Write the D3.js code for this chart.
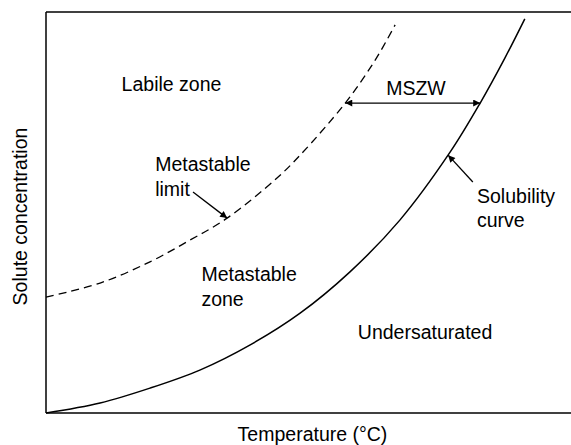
<!DOCTYPE html>
<html>
<head>
<meta charset="utf-8">
<script src="https://cdn.jsdelivr.net/npm/d3@7"></script>
<style>
  html, body { margin: 0; padding: 0; background: #fff; }
  svg { display: block; }
  text { font-family: "Liberation Sans", Arial, Helvetica, sans-serif; fill: #000; }
</style>
</head>
<body>
<svg id="chart" width="571" height="445"></svg>
<script>
// ---- Data (arbitrary units: temperature 0-100, concentration 0-100) ----
const solubilityT = [0, 10.3, 19.8, 29.3, 38.9, 48.4, 57.9, 67.4, 77.0, 82.7, 87.4, 91.2];
const solubilityC = [0, 2.5, 6.2, 10.7, 17.0, 24.9, 35.2, 48.1, 65.1, 77.3, 88.5, 98.3];
const metastableT = [0, 10.3, 19.8, 27.4, 34.5, 44.0, 48.4, 57.0, 62.7, 66.5];
const metastableC = [28.9, 32.4, 37.7, 43.1, 48.6, 58.6, 64.3, 77.3, 88.0, 96.8];

const xLabel = "Temperature (°C)";
const yLabel = "Solute concentration";

// region labels: [text lines, T, C]
const zoneLabels = [
  { lines: ["Labile zone"], t: 14.4, c: 80.3 },
  { lines: ["Metastable", "limit"], t: 20.8, c: 60.3 },
  { lines: ["Metastable", "zone"], t: 29.6, c: 32.8 },
  { lines: ["Undersaturated"], t: 59.4, c: 18.5 },
  { lines: ["Solubility", "curve"], t: 82.1, c: 52.4 },
  { lines: ["MSZW"], t: 64.8, c: 79.3 }
];
// arrows: from (t1,c1) to (t2,c2); double = heads on both ends
const arrows = [
  { t1: 57.0, c1: 77.3, t2: 82.7, c2: 77.3, double: true },
  { t1: 28.0, c1: 55.1, t2: 34.5, c2: 48.6, double: false },
  { t1: 81.3, c1: 57.6, t2: 76.6, c2: 64.3, double: false }
];

// ---- Layout ----
const W = 571, H = 445;
const margin = { left: 46, right: 0, top: 12, bottom: 32 };
const svg = d3.select("#chart");
const x = d3.scaleLinear().domain([0, 100]).range([margin.left, W - margin.right]);
const y = d3.scaleLinear().domain([0, 100]).range([H - margin.bottom, margin.top]);

const FS = 19.5;

// markers
const defs = svg.append("defs");
defs.append("marker").attr("id", "head")
  .attr("viewBox", "0 0 10 10").attr("refX", 10).attr("refY", 5)
  .attr("markerWidth", 9).attr("markerHeight", 7).attr("markerUnits", "userSpaceOnUse")
  .attr("orient", "auto-start-reverse")
  .append("path").attr("d", "M0,0 L10,5 L0,10 Z").attr("fill", "#000");

// frame: left, top, bottom
const frame = svg.append("g").attr("stroke", "#000").attr("stroke-width", 1.5).attr("fill", "none");
frame.append("line").attr("x1", x(0)).attr("x2", x(0)).attr("y1", y(100)).attr("y2", y(0));
frame.append("line").attr("x1", x(0)).attr("x2", x(100)).attr("y1", y(100)).attr("y2", y(100));
frame.append("line").attr("x1", x(0)).attr("x2", x(100)).attr("y1", y(0)).attr("y2", y(0));

const line = d3.line().x(d => x(d[0])).y(d => y(d[1])).curve(d3.curveCatmullRom.alpha(0.5));

const solPts = solubilityT.map((t, i) => [t, solubilityC[i]]);
const metPts = metastableT.map((t, i) => [t, metastableC[i]]);

svg.append("path").datum(solPts).attr("d", line)
  .attr("fill", "none").attr("stroke", "#000").attr("stroke-width", 1.5);
svg.append("path").datum(metPts).attr("d", line)
  .attr("fill", "none").attr("stroke", "#000").attr("stroke-width", 1.3)
  .attr("stroke-dasharray", "8,5");

// arrows
svg.append("g").selectAll("line").data(arrows).join("line")
  .attr("x1", d => x(d.t1)).attr("y1", d => y(d.c1))
  .attr("x2", d => x(d.t2)).attr("y2", d => y(d.c2))
  .attr("stroke", "#000").attr("stroke-width", 1.3)
  .attr("marker-end", "url(#head)")
  .attr("marker-start", d => d.double ? "url(#head)" : null);

// zone labels
const lh = 24.5;
zoneLabels.forEach(z => {
  const t = svg.append("text").attr("x", x(z.t)).attr("y", y(z.c)).attr("font-size", FS);
  z.lines.forEach((s, i) => {
    t.append("tspan").attr("x", x(z.t)).attr("dy", i === 0 ? 0 : lh).text(s);
  });
});

// axis labels
svg.append("text").attr("x", (x(0) + x(100)) / 2 + 4).attr("y", 441)
  .attr("text-anchor", "middle").attr("font-size", FS).text(xLabel);
svg.append("text")
  .attr("transform", `translate(26.5,${(y(0) + y(100)) / 2 + 4}) rotate(-90)`)
  .attr("text-anchor", "middle").attr("font-size", FS).text(yLabel);
</script>
</body>
</html>
